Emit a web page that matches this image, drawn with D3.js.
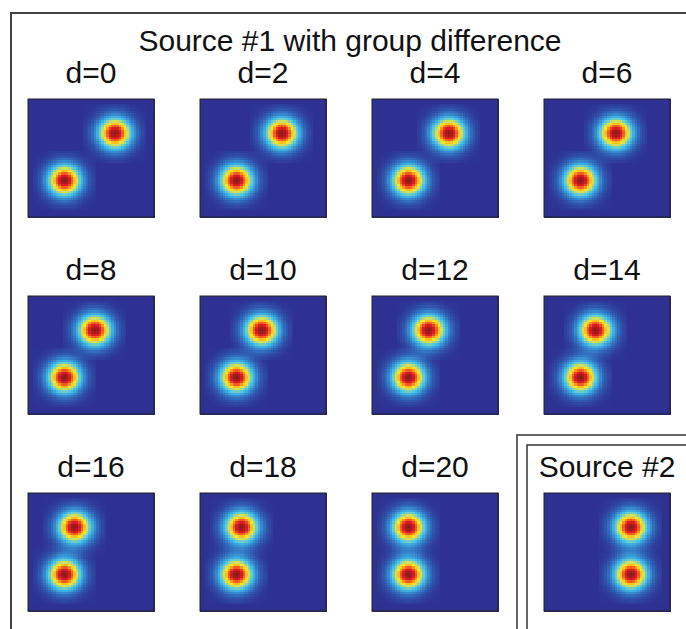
<!DOCTYPE html>
<html><head><meta charset="utf-8">
<script src="https://cdn.jsdelivr.net/npm/d3@7"></script>
<style>html,body{margin:0;padding:0;background:#fff;}svg{display:block;}</style>
</head><body>
<svg id="chart" width="686" height="629"></svg>
<script>
// ---- data ----
const titleText = "Source #1 with group difference";
const dValues = [0, 2, 4, 6, 8, 10, 12, 14, 16, 18, 20];
// fixed blob of source #1 (grid column, grid row)
const fixedBlob = [14, 34];
// moving blob column for each d, row stays the same
const movingBlobX = [34, 32, 30, 28, 26, 24, 22, 20, 18, 16, 14];
const movingBlobY = 14;
// source #2 blobs
const source2Label = "Source #2";
const source2Blobs = [[34, 14], [34, 34]];
const gridSize = 50;
const blobSigma = 4.7;    // gaussian width in grid cells
const blobSupport = 12;   // half-width of the square support

// ---- colour map (printed jet) ----
const cmapStops = [0, 0.125, 0.375, 0.5, 0.625, 0.75, 0.875, 1];
const cmapColors = ["#2e3191", "#3060b5", "#3fc4ef", "#a6d490", "#fbee22", "#f7941d", "#ec1c24", "#8e1a1d"];
const color = d3.scaleLinear().domain(cmapStops).range(cmapColors).clamp(true);

const svg = d3.select("#chart");
const W = 686, H = 629;
const font = "'Liberation Sans', Arial, Helvetica, sans-serif";

// frames
const frame = svg.append("g").attr("fill", "none");
frame.append("path").attr("d", `M11,${H + 5}V13H${W + 5}`).attr("stroke", "#444").attr("stroke-width", 2);
frame.append("path").attr("d", `M517,${H + 5}V435H${W + 5}`).attr("stroke", "#333").attr("stroke-width", 1.5);
frame.append("path").attr("d", `M527,${H + 5}V445H${W + 5}`).attr("stroke", "#333").attr("stroke-width", 1.5);

svg.append("text").attr("x", 350).attr("y", 51).attr("text-anchor", "middle")
  .attr("font-family", font).attr("font-size", 30).attr("fill", "#111").text(titleText);

const panelW = 126, panelH = 118;
const colX = d3.scaleLinear().domain([0, 3]).range([28, 544]);
const rowY = d3.scaleLinear().domain([0, 2]).range([99, 493]);
const cx = d3.scaleBand().domain(d3.range(gridSize)).range([0, panelW]);
const cy = d3.scaleBand().domain(d3.range(gridSize)).range([0, panelH]);

function field(blobs) {
  const cells = [];
  for (let j = 0; j < gridSize; j++) for (let i = 0; i < gridSize; i++) {
    let v = 0;
    blobs.forEach(([bx, by]) => {
      const dx = i - bx, dy = j - by;
      if (Math.abs(dx) <= blobSupport && Math.abs(dy) <= blobSupport) {
        v += Math.exp(-(dx * dx + dy * dy) / (2 * blobSigma * blobSigma));
      }
    });
    cells.push({ i, j, v: Math.min(1, v) });
  }
  return cells;
}

function drawPanel(x0, y0, label, blobs) {
  const g = svg.append("g").attr("transform", `translate(${x0},${y0})`);
  g.append("g").attr("shape-rendering", "crispEdges")
    .selectAll("rect").data(field(blobs)).join("rect")
    .attr("x", d => cx(d.i)).attr("y", d => cy(d.j))
    .attr("width", cx.bandwidth() + 0.6).attr("height", cy.bandwidth() + 0.6)
    .attr("fill", d => color(d.v));
  g.append("rect").attr("width", panelW).attr("height", panelH)
    .attr("fill", "none").attr("stroke", "#222").attr("stroke-width", 1);
  g.append("text").attr("x", panelW / 2).attr("y", -16).attr("text-anchor", "middle")
    .attr("font-family", font).attr("font-size", 30).attr("fill", "#111").text(label);
}

dValues.forEach((d, k) => {
  const c = k % 4, r = Math.floor(k / 4);
  drawPanel(colX(c), rowY(r), "d=" + d, [fixedBlob, [movingBlobX[k], movingBlobY]]);
});
drawPanel(colX(3), rowY(2), source2Label, source2Blobs);
</script>
</body></html>
